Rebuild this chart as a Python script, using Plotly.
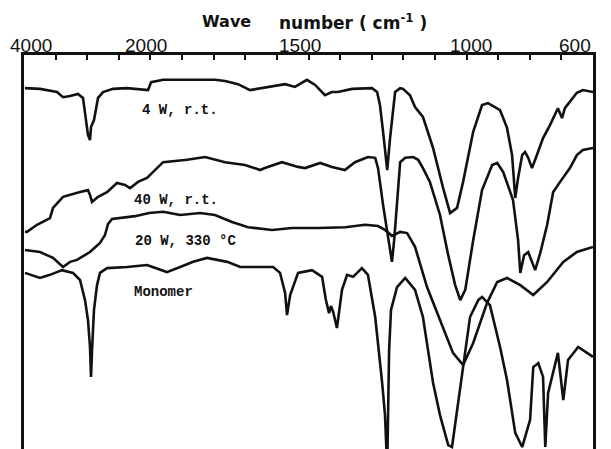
import numpy as np
import plotly.graph_objects as go

# ---------------- data ----------------
# wave number (cm-1) and transmittance (arbitrary %, stacked curves)
wn_4w = [3985, 3747, 3478, 3383, 3272, 3146, 3067, 3035, 2988, 2956, 2940, 2893, 2829, 2750,
         2592, 2371, 2165, 2038, 1998, 1960, 1875, 1796, 1764, 1723, 1685, 1647, 1574, 1543,
         1505, 1479, 1448, 1426, 1407, 1362, 1299, 1283, 1274, 1264, 1251, 1242, 1226, 1210,
         1201, 1179, 1163, 1138, 1106, 1074, 1052, 1030, 1011, 979, 951, 932, 894, 872, 856,
         846, 837, 824, 815, 805, 793, 783, 758, 736, 711, 698, 689, 651, 632, 600]
t_4w = [91.6, 91.4, 90.6, 89.3, 89.6, 90.1, 89.1, 84.8, 79.7, 78.4, 81.7, 83.5, 89.1, 90.6,
        91.4, 91.6, 91.4, 91.1, 93.1, 93.7, 93.7, 93.7, 93.4, 92.6, 91.1, 91.6, 92.6, 91.9,
        93.7, 92.4, 89.8, 90.6, 90.6, 91.4, 91.6, 90.6, 87.3, 80.5, 70.8, 78.9, 90.6, 91.6,
        91.4, 89.8, 86.8, 84.3, 76.4, 66.2, 59.9, 61.2, 67.8, 80.5, 87.3, 87.8, 86.0, 81.5, 74.6,
        63.7, 68.8, 74.6, 75.4, 73.9, 71.3, 73.4, 78.9, 82.2, 86.5, 84.0, 86.5, 90.4, 91.1, 90.6]

wn_40w = [3985, 3953, 3794, 3589, 3541, 3383, 3114, 2988, 2956, 2924, 2829, 2687, 2529, 2402,
          2323, 2197, 2054, 1960, 1884, 1827, 1764, 1701, 1653, 1638, 1584, 1533, 1511, 1463,
          1426, 1385, 1353, 1312, 1289, 1280, 1264, 1248, 1236, 1229, 1220, 1210, 1194, 1169,
          1153, 1138, 1116, 1084, 1058, 1036, 1020, 1004, 979, 951, 919, 903, 884, 853, 837,
          830, 818, 805, 783, 767, 745, 726, 704, 673, 651, 632, 600]
t_40w = [55.1, 55.1, 56.9, 58.6, 61.2, 64.0, 65.2, 65.7, 64.5, 62.7, 64.0, 65.2, 67.5, 67.0,
         66.2, 67.8, 68.8, 72.8, 73.4, 74.1, 72.8, 72.1, 70.8, 71.3, 72.8, 71.6, 71.3, 72.6,
         71.6, 70.8, 72.8, 74.1, 73.9, 71.3, 61.9, 54.3, 47.5, 53.0, 63.2, 72.8, 73.9, 74.1,
         73.4, 71.3, 67.8, 59.4, 49.2, 41.6, 37.8, 40.4, 53.0, 65.7, 72.1, 72.6, 70.3, 63.2, 53.0,
         44.7, 49.2, 50.0, 45.4, 49.7, 56.9, 65.2, 67.8, 71.3, 74.6, 75.9, 76.4]

wn_20w = [3985, 3747, 3541, 3383, 3272, 3162, 2956, 2798, 2719, 2671, 2608, 2481, 2244, 2022,
          1960, 1906, 1843, 1796, 1742, 1691, 1615, 1552, 1470, 1384, 1321, 1280, 1258, 1236,
          1210, 1188, 1163, 1125, 1084, 1043, 1011, 979, 935, 903, 872, 830, 789, 745, 694,
          651, 600]
t_20w = [50.5, 50.0, 48.5, 46.2, 47.5, 48.0, 50.0, 52.3, 54.3, 57.1, 58.4, 58.6, 59.1, 59.9,
         60.2, 59.4, 59.9, 59.4, 57.6, 56.3, 55.6, 56.1, 56.1, 56.3, 56.9, 56.6, 55.6, 54.1,
         55.1, 54.8, 51.3, 41.1, 32.7, 24.4, 21.3, 26.9, 37.1, 42.4, 43.4, 41.6, 39.1, 42.4, 47.5,
         50.0, 51.3]

wn_mono = [3985, 3747, 3589, 3399, 3225, 3114, 3035, 2988, 2956, 2940, 2924, 2893, 2845, 2798,
           2687, 2371, 2054, 1948, 1906, 1865, 1821, 1757, 1716, 1675, 1612, 1590, 1574, 1568,
           1558, 1533, 1489, 1457, 1445, 1435, 1429, 1422, 1410, 1394, 1378, 1359, 1331, 1312,
           1289, 1267, 1258, 1251, 1245, 1239, 1220, 1194, 1163, 1138, 1106, 1084, 1058, 1046,
           1030, 1014, 989, 963, 951, 926, 894, 872, 846, 824, 799, 789, 773, 758, 751, 742,
           720, 711, 694, 679, 647, 600]
t_mono = [44.7, 43.4, 44.2, 45.4, 44.7, 42.9, 37.8, 32.7, 25.9, 18.3, 25.1, 35.3, 41.6, 44.7,
          45.9, 46.2, 46.7, 44.9, 46.2, 47.5, 48.5, 47.5, 46.2, 46.2, 46.2, 44.7, 39.6, 34.0,
          39.1, 44.7, 45.4, 43.7, 37.8, 34.5, 36.3, 34.8, 30.7, 40.4, 44.2, 43.7, 45.9, 44.2,
          33.5, 16.8, 8.6, -5.0, 25.1, 35.3, 41.1, 43.4, 40.4, 33.5, 16.8, 8.6, 1.0, 0.5,
          9.9, 20.1, 33.5, 37.8, 38.6, 36.5, 25.9, 17.5, 4.1, 0.5, 7.4, 20.8, 21.8, 18.3, 0.5, 14.2,
          21.8, 24.4, 12.4, 22.6, 25.9, 23.4]

series_names = ["4 W, r.t.", "40 W, r.t.", "20 W, 330 °C", "Monomer"]
series_wn = [wn_4w, wn_40w, wn_20w, wn_mono]
series_t = [t_4w, t_40w, t_20w, t_mono]
# label anchor (wave number, transmittance) for each curve caption
label_wn = [2165, 2291, 2276, 2291]
label_t = [86.0, 63.2, 52.9, 39.8]

tick_wn = [4000, 3500, 3000, 2500, 2000, 1900, 1800, 1700, 1600, 1500, 1400, 1300,
           1200, 1100, 1000, 900, 800, 700, 600]
labelled_wn = [4000, 2000, 1500, 1000, 600]


# ---------------- chart-recorder abscissa (scale change at 2000 cm-1) ----------------
def to_u(wn):
    wn = np.asarray(wn, dtype=float)
    return np.where(wn >= 2000, (4000 - wn) / 500.0, 4 + (2000 - wn) / 100.0)


fig = go.Figure()
for name, w, t in zip(series_names, series_wn, series_t):
    fig.add_trace(go.Scatter(x=to_u(w), y=t, mode="lines", name=name,
                             line=dict(color="#111111", width=2.6),
                             showlegend=False, hoverinfo="skip"))

mono = "Liberation Mono"
for name, lw, lt in zip(series_names, label_wn, label_t):
    fig.add_annotation(x=float(to_u(lw)), y=lt, xref="x", yref="y", text=name,
                       showarrow=False, xanchor="left", yanchor="middle",
                       font=dict(family=mono, size=14, color="#111111", weight="bold"))

# top scale labels
shifts = {4000: 7, 2000: -4, 1500: -9, 1000: 4, 600: 0}
anchors = {4000: "center", 2000: "center", 1500: "center", 1000: "center", 600: "right"}
for w in labelled_wn:
    fig.add_annotation(x=float(to_u(w)), y=1.023, xref="x", yref="paper", text=str(w),
                       showarrow=False, xanchor=anchors[w], yanchor="middle",
                       xshift=shifts[w],
                       font=dict(family="Liberation Sans", size=19, color="#111111"))

fig.add_annotation(x=0.309, y=1.084, xref="paper", yref="paper", text="Wave",
                   showarrow=False, xanchor="left", yanchor="middle",
                   font=dict(family="DejaVu Sans", size=16, color="#111111", weight="bold"))
fig.add_annotation(x=0.445, y=1.084, xref="paper", yref="paper",
                   text="number ( cm<sup>-1</sup> )",
                   showarrow=False, xanchor="left", yanchor="middle",
                   font=dict(family="DejaVu Sans", size=17, color="#111111", weight="bold"))

fig.update_layout(
    width=611, height=449,
    margin=dict(l=24, r=18, t=55, b=0),
    paper_bgcolor="white", plot_bgcolor="white",
    xaxis=dict(range=[0, 18], side="top", showgrid=False, zeroline=False,
               tickvals=to_u(tick_wn).tolist(), showticklabels=False,
               ticks="inside", ticklen=5, tickwidth=2, tickcolor="#111111",
               showline=True, linewidth=3, linecolor="#111111", mirror=False),
    yaxis=dict(range=[0, 100], showgrid=False, zeroline=False, showticklabels=False,
               ticks="", showline=True, linewidth=3, linecolor="#111111", mirror=True),
)

fig.write_html("out.html")
